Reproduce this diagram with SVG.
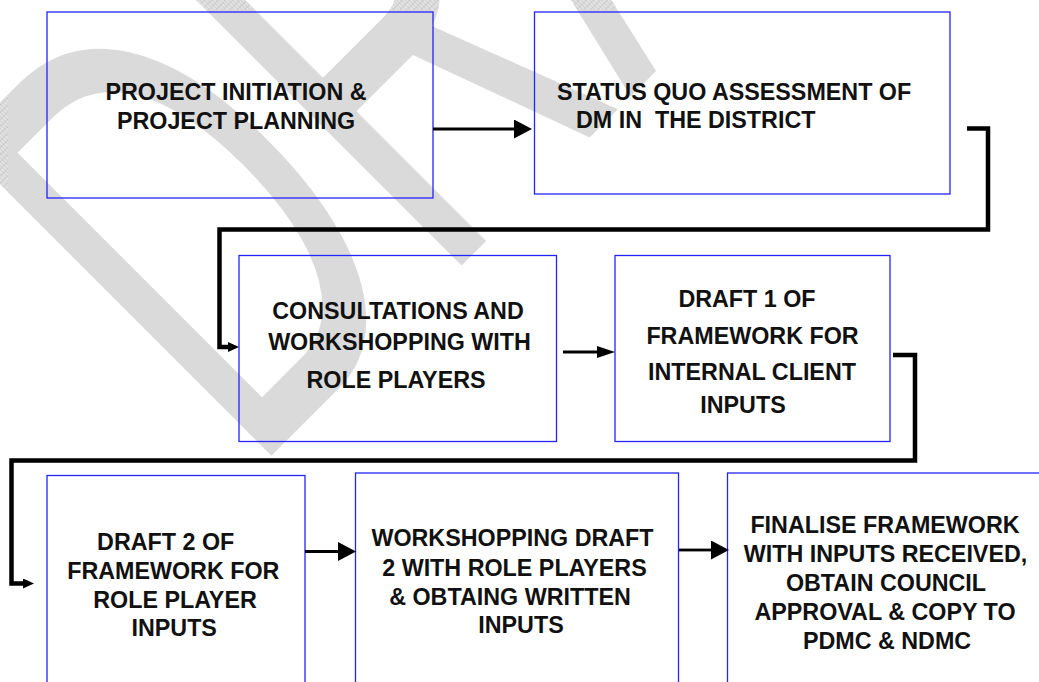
<svg xmlns="http://www.w3.org/2000/svg" xmlns:xlink="http://www.w3.org/1999/xlink" width="1039" height="682" viewBox="0 0 1039 682">
  <style>
    .box { fill: none; stroke: #2424ff; stroke-width: 1.3; }
    .lbl { font-family: "Liberation Sans", Arial, sans-serif; font-weight: bold; font-size: 23.3px; fill: #111; text-anchor: middle; }
    .lft { text-anchor: start; white-space: pre; }
    .thin { fill: none; stroke: #000; stroke-width: 2.8; }
    .thick { fill: none; stroke: #000; stroke-width: 4.5; stroke-linejoin: miter; }
    .wm { font-family: "Liberation Sans", Arial, sans-serif; font-size: 642px; }
  </style>
  <defs>
    <marker id="headBig" markerUnits="userSpaceOnUse" markerWidth="18" markerHeight="19" refX="0" refY="9.5" orient="auto">
      <path d="M0,0 L18,9.5 L0,19 z" fill="#000"/>
    </marker>
    <marker id="headMid" markerUnits="userSpaceOnUse" markerWidth="18" markerHeight="12" refX="0" refY="6" orient="auto">
      <path d="M0,0 L18,6 L0,12 z" fill="#000"/>
    </marker>
    <marker id="headSmall" markerUnits="userSpaceOnUse" markerWidth="11" markerHeight="10" refX="0" refY="5" orient="auto">
      <path d="M0,0 L11,5 L0,10 z" fill="#000"/>
    </marker>
    <pattern id="grid" width="5" height="5" patternUnits="userSpaceOnUse">
      <rect width="5" height="5" fill="#e3e3e3"/>
      <path d="M0,0.5 H5 M0.5,0 V5" stroke="#c6c6c6" stroke-width="1"/>
    </pattern>
    <clipPath id="pageArea">
      <rect x="8" y="10" width="1031" height="672"/>
    </clipPath>
    <clipPath id="marginArea">
      <path d="M0,0 H1039 V10 H8 V682 H0 z"/>
    </clipPath>
    <text id="wmText" class="wm" x="0" y="0" transform="translate(249.8 477.3) rotate(-45) scale(0.58 1)">DRAFT</text>
  </defs>

  <!-- background watermark -->
  <g id="watermark">
    <use xlink:href="#wmText" fill="#dadada" clip-path="url(#pageArea)"/>
    <use xlink:href="#wmText" fill="url(#grid)" clip-path="url(#marginArea)"/>
  </g>

  <!-- process steps -->
  <g id="step1">
    <rect class="box" x="47" y="12" width="386" height="186"/>
    <text class="lbl" x="236" y="100">PROJECT INITIATION &amp;</text>
    <text class="lbl" x="236" y="128.5">PROJECT PLANNING</text>
  </g>
  <g id="step2">
    <rect class="box" x="534.5" y="12" width="415.5" height="182"/>
    <text class="lbl lft" x="557" y="99.5">STATUS QUO ASSESSMENT OF</text>
    <text class="lbl lft" x="576" y="128" xml:space="preserve">DM IN  THE DISTRICT</text>
  </g>
  <g id="step3">
    <rect class="box" x="239" y="255.5" width="317.5" height="186"/>
    <text class="lbl" x="398" y="319">CONSULTATIONS AND</text>
    <text class="lbl" x="399.5" y="350">WORKSHOPPING WITH</text>
    <text class="lbl" x="396" y="388">ROLE PLAYERS</text>
  </g>
  <g id="step4">
    <rect class="box" x="615" y="255.5" width="275" height="186"/>
    <text class="lbl" x="747" y="306.5">DRAFT 1 OF</text>
    <text class="lbl" x="752.5" y="343.5">FRAMEWORK FOR</text>
    <text class="lbl" x="752" y="379.5">INTERNAL CLIENT</text>
    <text class="lbl" x="743" y="413">INPUTS</text>
  </g>
  <g id="step5">
    <rect class="box" x="47" y="475.5" width="258" height="220"/>
    <text class="lbl" x="165.7" y="549.5">DRAFT 2 OF</text>
    <text class="lbl" x="173.3" y="579">FRAMEWORK FOR</text>
    <text class="lbl" x="175" y="607.5">ROLE PLAYER</text>
    <text class="lbl" x="174.2" y="636">INPUTS</text>
  </g>
  <g id="step6">
    <rect class="box" x="355.5" y="473" width="323" height="220"/>
    <text class="lbl" x="512.5" y="546">WORKSHOPPING DRAFT</text>
    <text class="lbl" x="514.5" y="575.5">2 WITH ROLE PLAYERS</text>
    <text class="lbl" x="510" y="604.5">&amp; OBTAING WRITTEN</text>
    <text class="lbl" x="521" y="632.5">INPUTS</text>
  </g>
  <g id="step7">
    <rect class="box" x="727.5" y="473" width="320" height="220"/>
    <text class="lbl" x="885" y="532.5">FINALISE FRAMEWORK</text>
    <text class="lbl" x="885.5" y="561.5">WITH INPUTS RECEIVED,</text>
    <text class="lbl" x="886" y="590.5">OBTAIN COUNCIL</text>
    <text class="lbl" x="885" y="619.5">APPROVAL &amp; COPY TO</text>
    <text class="lbl" x="887" y="648.5">PDMC &amp; NDMC</text>
  </g>

  <!-- flow connectors -->
  <g id="connectors">
    <path class="thin" d="M433,129 H514" marker-end="url(#headBig)"/>
    <path class="thick" d="M967,128.5 H988 V229.5 H219.5 V347 H228" marker-end="url(#headSmall)"/>
    <path class="thin" d="M563,352 H597" marker-end="url(#headMid)"/>
    <path class="thick" d="M893,355 H915 V460.5 H11.5 V583.5 H23" marker-end="url(#headSmall)"/>
    <path class="thin" d="M305,551.5 H338" marker-end="url(#headBig)"/>
    <path class="thin" d="M679,550 H711" marker-end="url(#headBig)"/>
  </g>
</svg>
